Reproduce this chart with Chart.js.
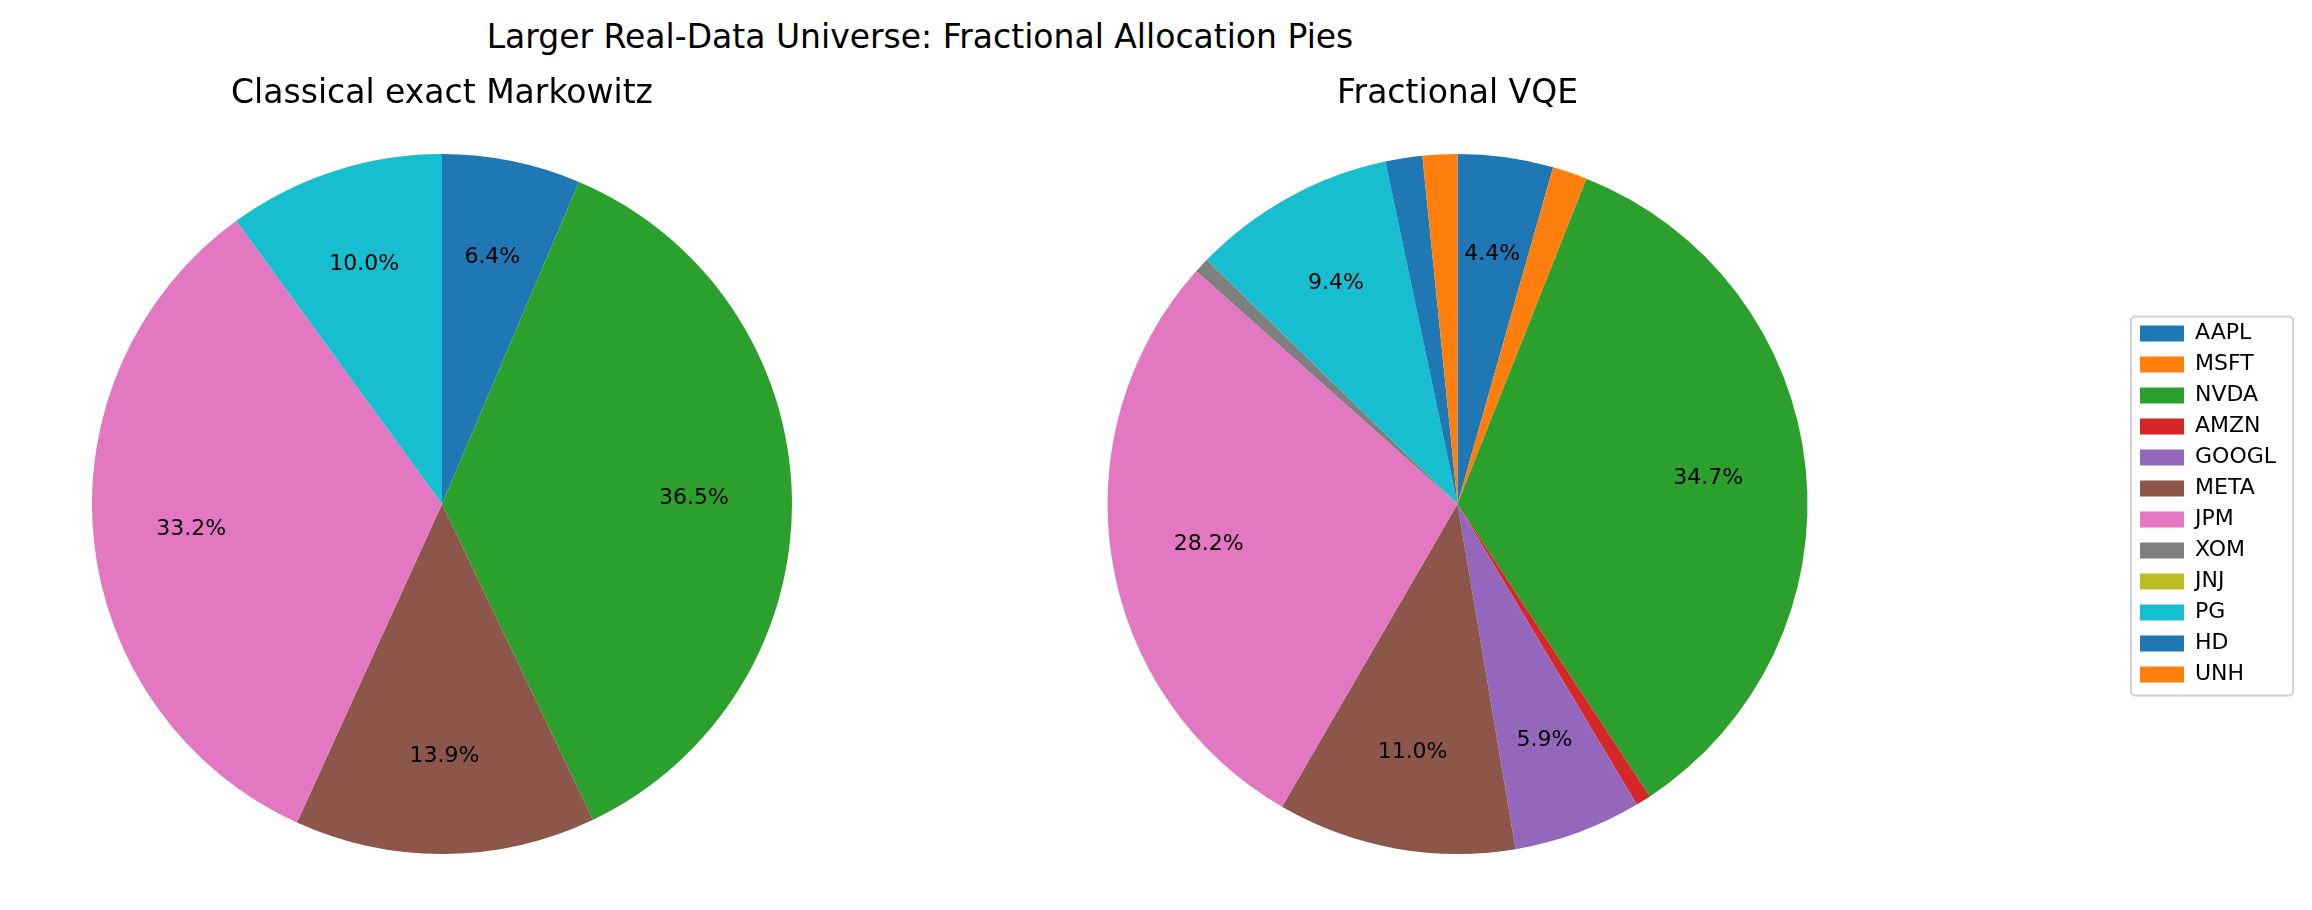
<!DOCTYPE html>
<html>
<head>
<meta charset="utf-8">
<script src="https://cdn.jsdelivr.net/npm/chart.js@4.4.0/dist/chart.umd.min.js"></script>
<style>
    html, body { margin: 0; padding: 0; background: #ffffff; }
    #page { position: relative; width: 2312px; height: 910px; overflow: hidden; font-family: "DejaVu Sans", sans-serif; }
    #suptitle { position: absolute; left: 0; width: 1840px; top: 17px; line-height: 40px; text-align: center; font-size: 33px; color: #000; }
    canvas { position: absolute; top: 0; }
    #classicalPie { left: 92px; }
    #vqePie { left: 784px; }
</style>
</head>
<body>
<div id="page">
    <div id="suptitle">Larger Real-Data Universe: Fractional Allocation Pies</div>
    <canvas id="classicalPie" width="700" height="910"></canvas>
    <canvas id="vqePie" width="1528" height="910"></canvas>
</div>
<script>
// Tickers in the universe
const tickers = ["AAPL", "MSFT", "NVDA", "AMZN", "GOOGL", "META", "JPM", "XOM", "JNJ", "PG", "HD", "UNH"];

// Allocation weights (%)
const classicalWeights = [6.4, 0, 36.5, 0, 0, 13.9, 33.2, 0, 0, 10.0, 0, 0];
const vqeWeights = [4.4, 1.6, 34.7, 0.7, 5.9, 11.0, 28.2, 0.7, 0, 9.4, 1.7, 1.6];

// matplotlib tab10 cycle
const tab10 = ["#1f77b4", "#ff7f0e", "#2ca02c", "#d62728", "#9467bd", "#8c564b", "#e377c2", "#7f7f7f", "#bcbd22", "#17becf", "#1f77b4", "#ff7f0e"];

const fontFamily = '"DejaVu Sans", sans-serif';

// Draw percentage text on slices big enough (like autopct with a cutoff)
const pctLabels = {
    id: 'pctLabels',
    afterDatasetsDraw(chart) {
        const ctx = chart.ctx;
        const meta = chart.getDatasetMeta(0);
        const values = chart.data.datasets[0].data;
        const total = values.reduce((a, b) => a + b, 0);
        ctx.save();
        ctx.font = '22px ' + fontFamily;
        ctx.fillStyle = '#000000';
        ctx.textAlign = 'center';
        ctx.textBaseline = 'middle';
        meta.data.forEach(function(arc, i) {
            const pct = values[i] / total * 100;
            if (pct < 3) return;
            const p = arc.getProps(['x', 'y', 'startAngle', 'endAngle', 'outerRadius'], true);
            const mid = (p.startAngle + p.endAngle) / 2;
            const r = p.outerRadius * 0.72;
            ctx.fillText(pct.toFixed(1) + '%', p.x + Math.cos(mid) * r, p.y + Math.sin(mid) * r);
        });
        ctx.restore();
    }
};

// Frame around the legend, matplotlib style
const legendFrame = {
    id: 'legendFrame',
    afterDraw(chart) {
        const boxes = chart.legend && chart.legend.legendHitBoxes;
        if (!boxes || !boxes.length) return;
        let left = Infinity, top = Infinity, right = -Infinity, bottom = -Infinity;
        boxes.forEach(function(b) {
            left = Math.min(left, b.left);
            top = Math.min(top, b.top);
            right = Math.max(right, b.left + b.width);
            bottom = Math.max(bottom, b.top + b.height);
        });
        const ctx = chart.ctx;
        ctx.save();
        ctx.strokeStyle = 'rgba(204, 204, 204, 0.9)';
        ctx.lineWidth = 2;
        ctx.beginPath();
        ctx.roundRect(left - 9, top - 6, right - left + 26, bottom - top + 16, 4);
        ctx.stroke();
        ctx.restore();
    }
};

function pieConfig(title, weights, showLegend) {
    return {
        type: 'pie',
        data: {
            labels: tickers,
            datasets: [{
                data: weights,
                backgroundColor: tab10,
                borderWidth: 0
            }]
        },
        options: {
            responsive: false,
            animation: false,
            events: [],
            layout: {
                padding: { top: 0, bottom: 56, left: 0, right: showLegend ? 26 : 0 }
            },
            plugins: {
                title: {
                    display: true,
                    text: title,
                    fullSize: false,
                    color: '#000000',
                    font: { family: fontFamily, size: 33, weight: 'normal', lineHeight: 1.2 },
                    padding: { top: 74.6, bottom: 39.8 }
                },
                legend: {
                    display: showLegend,
                    position: 'right',
                    fullSize: false,
                    align: 'center',
                    labels: {
                        boxWidth: 44,
                        boxHeight: 16,
                        padding: 9,
                        color: '#000000',
                        font: { family: fontFamily, size: 22 }
                    }
                },
                tooltip: { enabled: false }
            }
        },
        plugins: [pctLabels, legendFrame]
    };
}

const classicalChart = new Chart(
    document.getElementById('classicalPie'),
    pieConfig('Classical exact Markowitz', classicalWeights, false)
);

const vqeChart = new Chart(
    document.getElementById('vqePie'),
    pieConfig('Fractional VQE', vqeWeights, true)
);
</script>
</body>
</html>
